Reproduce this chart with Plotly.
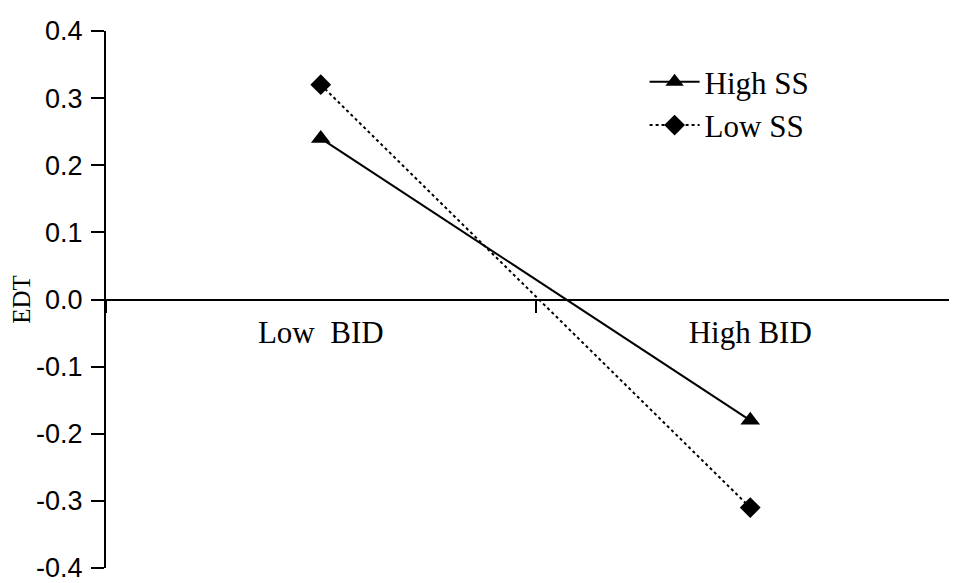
import plotly.graph_objects as go

categories = ["Low\u00a0\u00a0BID", "High\u00a0BID"]
high_ss = [0.24, -0.18]
low_ss = [0.32, -0.31]
y_ticks = [0.4, 0.3, 0.2, 0.1, 0.0, -0.1, -0.2, -0.3, -0.4]
y_tick_labels = ["0.4", "0.3", "0.2", "0.1", "0.0", "-0.1", "-0.2", "-0.3", "-0.4"]

serif = "Liberation Serif, Times New Roman, serif"
sans = "Liberation Sans, Arial, sans-serif"

fig = go.Figure()
fig.add_trace(go.Scatter(
    x=categories, y=high_ss, name="High SS", mode="lines+markers",
    line=dict(color="black", width=2),
    marker=dict(symbol="triangle-up", size=17, color="black"),
))
fig.add_trace(go.Scatter(
    x=categories, y=low_ss, name="Low SS", mode="lines+markers",
    line=dict(color="black", width=2, dash="dot"),
    marker=dict(symbol="diamond", size=16, color="black"),
))

fig.update_layout(
    width=957, height=583,
    margin=dict(l=98, r=0, t=23, b=23),
    paper_bgcolor="white", plot_bgcolor="white",
    showlegend=True,
    legend=dict(
        x=0.627, y=0.955, xanchor="left", yanchor="top",
        font=dict(family=serif, size=31, color="black"),
        bgcolor="rgba(0,0,0,0)", itemwidth=50, tracegroupgap=0,
    ),
    xaxis=dict(
        type="category", range=[-0.5, 1.5],
        anchor="free", position=0.5, automargin=False,
        showline=True, linecolor="black", linewidth=2,
        showgrid=False, zeroline=False,
        ticks="outside", tickson="boundaries", ticklen=12, tickwidth=2, tickcolor="black",
        tickfont=dict(family=serif, size=31, color="black"),
        ticklabelstandoff=5,
    ),
    yaxis=dict(
        range=[-0.4, 0.4], automargin=False,
        tickvals=y_ticks, ticktext=y_tick_labels,
        showline=True, linecolor="black", linewidth=2,
        showgrid=False, zeroline=False,
        ticks="outside", ticklen=13, tickwidth=2, tickcolor="black",
        tickfont=dict(family=sans, size=27, color="black"),
        ticklabelstandoff=3,
        title=dict(text="EDT", font=dict(family=serif, size=25, color="black"), standoff=0),
    ),
)

fig.write_html("out.html")
